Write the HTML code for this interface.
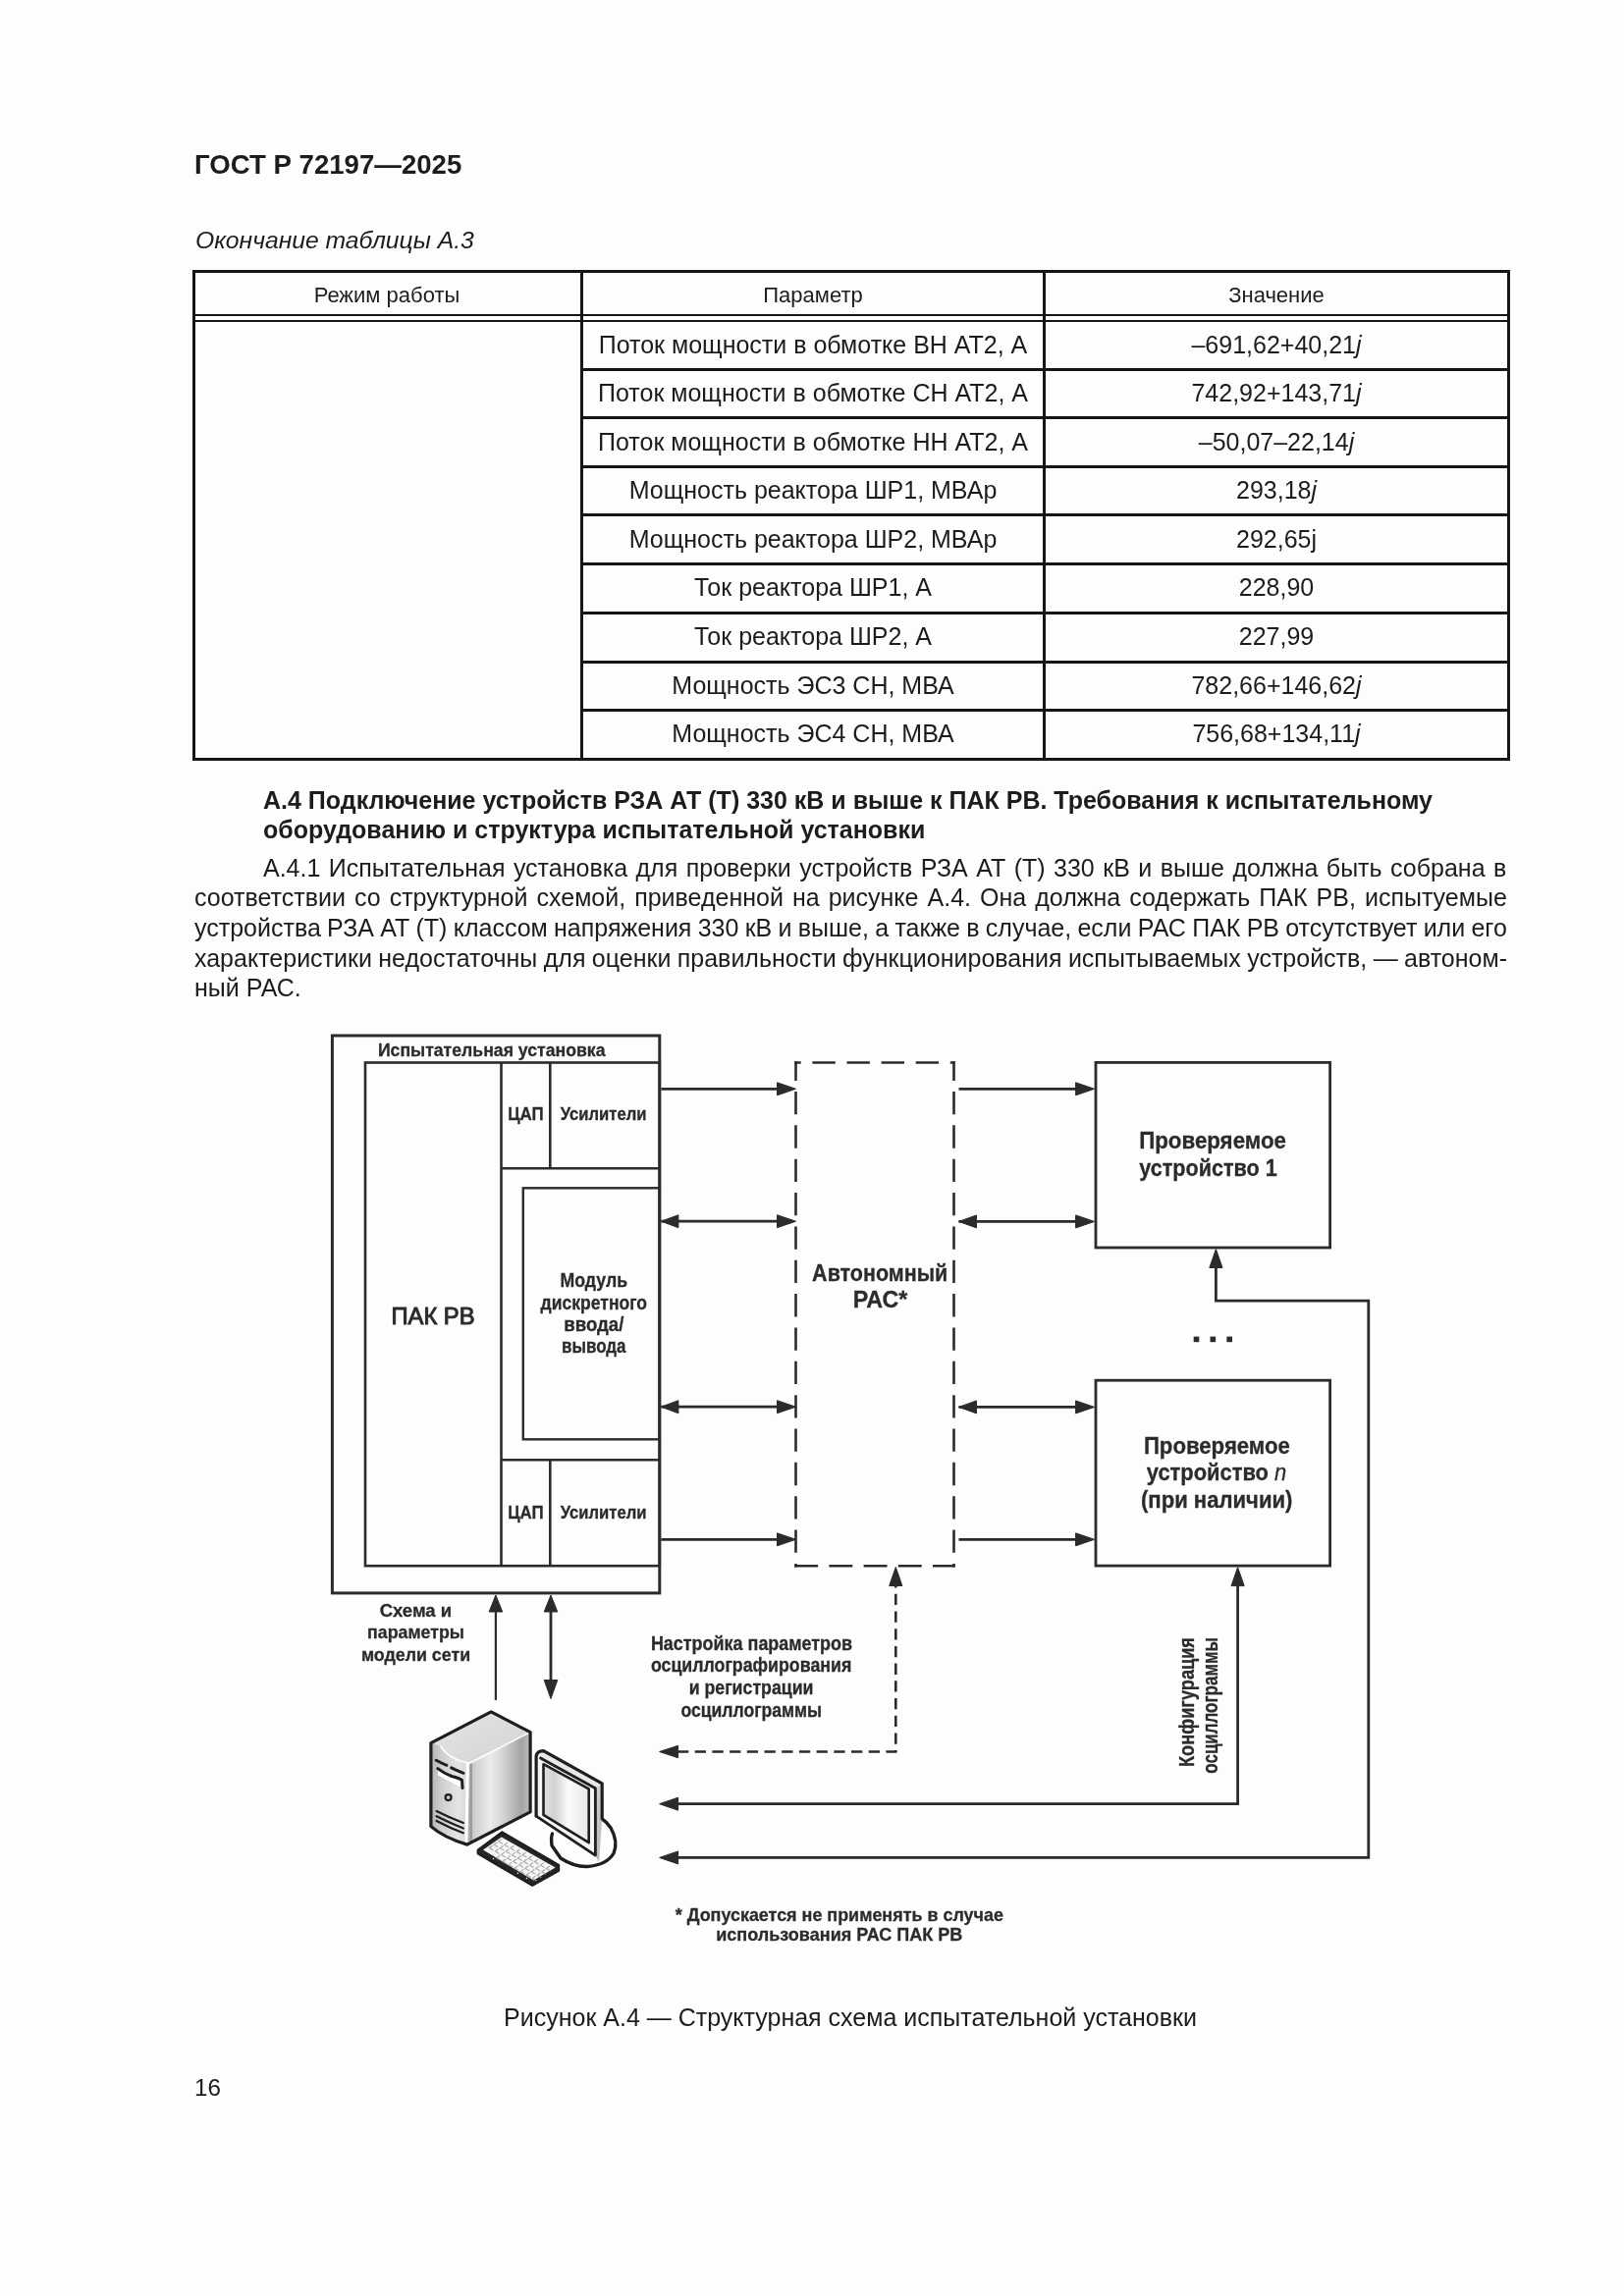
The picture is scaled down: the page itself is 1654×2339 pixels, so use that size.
<!DOCTYPE html>
<html lang="ru"><head><meta charset="utf-8"><title>ГОСТ Р 72197—2025</title>
<style>
html,body{margin:0;padding:0;background:#fdfdfd;}
body>*{will-change:transform;}
body{width:1654px;height:2339px;position:relative;overflow:hidden;font-family:"Liberation Sans",sans-serif;color:#1c1c1c;}
.t{position:absolute;white-space:nowrap;line-height:1;}
.jl{position:absolute;display:flex;justify-content:space-between;white-space:nowrap;line-height:1;}
.r{position:absolute;}
svg{position:absolute;left:0;top:0;}
svg text{font-family:"Liberation Sans",sans-serif;}
</style></head><body>
<div class="t" style="left:198.00px;top:153.64px;font-size:27.6px;font-weight:bold;">ГОСТ Р 72197—2025</div>
<div class="t" style="left:199.00px;top:233.09px;font-size:24.7px;font-style:italic;">Окончание таблицы А.3</div>
<div class="r" style="left:196px;top:275px;width:1341px;height:2.5px;background:#151515"></div>
<div class="r" style="left:196px;top:771.8px;width:1341px;height:3px;background:#151515"></div>
<div class="r" style="left:196px;top:275px;width:3px;height:499.8px;background:#151515"></div>
<div class="r" style="left:1534.6px;top:275px;width:3px;height:499.8px;background:#151515"></div>
<div class="r" style="left:590.8px;top:275px;width:2.6px;height:499.8px;background:#151515"></div>
<div class="r" style="left:1062px;top:275px;width:3px;height:499.8px;background:#151515"></div>
<div class="r" style="left:196px;top:320.3px;width:1341px;height:1.8px;background:#151515"></div>
<div class="r" style="left:196px;top:325.5px;width:1341px;height:1.8px;background:#151515"></div>
<div class="r" style="left:592px;top:374.8px;width:945px;height:2.5px;background:#151515"></div>
<div class="r" style="left:592px;top:424.3px;width:945px;height:2.5px;background:#151515"></div>
<div class="r" style="left:592px;top:473.8px;width:945px;height:2.5px;background:#151515"></div>
<div class="r" style="left:592px;top:523.3px;width:945px;height:2.5px;background:#151515"></div>
<div class="r" style="left:592px;top:573.0px;width:945px;height:2.5px;background:#151515"></div>
<div class="r" style="left:592px;top:622.8px;width:945px;height:2.5px;background:#151515"></div>
<div class="r" style="left:592px;top:672.5px;width:945px;height:2.5px;background:#151515"></div>
<div class="r" style="left:592px;top:722.0999999999999px;width:945px;height:2.5px;background:#151515"></div>
<div class="t" style="left:-605.80px;width:2000px;text-align:center;top:289.58px;font-size:22px;">Режим работы</div>
<div class="t" style="left:-172.50px;width:2000px;text-align:center;top:289.58px;font-size:22px;">Параметр</div>
<div class="t" style="left:300.00px;width:2000px;text-align:center;top:289.58px;font-size:22px;">Значение</div>
<div class="t" style="left:-172.50px;width:2000px;text-align:center;top:338.54px;font-size:25px;">Поток мощности в обмотке ВН АТ2, А</div>
<div class="t" style="left:300.00px;width:2000px;text-align:center;top:338.54px;font-size:25px;">–691,62+40,21<i>j</i></div>
<div class="t" style="left:-172.50px;width:2000px;text-align:center;top:388.04px;font-size:25px;">Поток мощности в обмотке СН АТ2, А</div>
<div class="t" style="left:300.00px;width:2000px;text-align:center;top:388.04px;font-size:25px;">742,92+143,71<i>j</i></div>
<div class="t" style="left:-172.50px;width:2000px;text-align:center;top:437.54px;font-size:25px;">Поток мощности в обмотке НН АТ2, А</div>
<div class="t" style="left:300.00px;width:2000px;text-align:center;top:437.54px;font-size:25px;">–50,07–22,14<i>j</i></div>
<div class="t" style="left:-172.50px;width:2000px;text-align:center;top:487.04px;font-size:25px;">Мощность реактора ШР1, МВАр</div>
<div class="t" style="left:300.00px;width:2000px;text-align:center;top:487.04px;font-size:25px;">293,18<i>j</i></div>
<div class="t" style="left:-172.50px;width:2000px;text-align:center;top:536.54px;font-size:25px;">Мощность реактора ШР2, МВАр</div>
<div class="t" style="left:300.00px;width:2000px;text-align:center;top:536.54px;font-size:25px;">292,65j</div>
<div class="t" style="left:-172.50px;width:2000px;text-align:center;top:586.24px;font-size:25px;">Ток реактора ШР1, А</div>
<div class="t" style="left:300.00px;width:2000px;text-align:center;top:586.24px;font-size:25px;">228,90</div>
<div class="t" style="left:-172.50px;width:2000px;text-align:center;top:636.04px;font-size:25px;">Ток реактора ШР2, А</div>
<div class="t" style="left:300.00px;width:2000px;text-align:center;top:636.04px;font-size:25px;">227,99</div>
<div class="t" style="left:-172.50px;width:2000px;text-align:center;top:685.74px;font-size:25px;">Мощность ЭС3 СН, МВА</div>
<div class="t" style="left:300.00px;width:2000px;text-align:center;top:685.74px;font-size:25px;">782,66+146,62<i>j</i></div>
<div class="t" style="left:-172.50px;width:2000px;text-align:center;top:735.34px;font-size:25px;">Мощность ЭС4 СН, МВА</div>
<div class="t" style="left:300.00px;width:2000px;text-align:center;top:735.34px;font-size:25px;">756,68+134,11<i>j</i></div>
<div class="t" style="left:268.00px;top:802.64px;font-size:25px;font-weight:bold;">А.4 Подключение устройств РЗА АТ (Т) 330 кВ и выше к ПАК РВ. Требования к испытательному</div>
<div class="t" style="left:268.00px;top:833.44px;font-size:25px;font-weight:bold;">оборудованию и структура испытательной установки</div>
<div class="jl" style="left:268px;width:1266.5px;top:871.54px;font-size:25px;"><span>А.4.1</span><span>Испытательная</span><span>установка</span><span>для</span><span>проверки</span><span>устройств</span><span>РЗА</span><span>АТ</span><span>(Т)</span><span>330</span><span>кВ</span><span>и</span><span>выше</span><span>должна</span><span>быть</span><span>собрана</span><span>в</span></div>
<div class="jl" style="left:197.5px;width:1337.0px;top:902.44px;font-size:25px;"><span>соответствии</span><span>со</span><span>структурной</span><span>схемой,</span><span>приведенной</span><span>на</span><span>рисунке</span><span>А.4.</span><span>Она</span><span>должна</span><span>содержать</span><span>ПАК</span><span>РВ,</span><span>испытуемые</span></div>
<div class="jl" style="left:197.5px;width:1337.0px;top:933.14px;font-size:25px;"><span>устройства</span><span>РЗА</span><span>АТ</span><span>(Т)</span><span>классом</span><span>напряжения</span><span>330</span><span>кВ</span><span>и</span><span>выше,</span><span>а</span><span>также</span><span>в</span><span>случае,</span><span>если</span><span>РАС</span><span>ПАК</span><span>РВ</span><span>отсутствует</span><span>или</span><span>его</span></div>
<div class="jl" style="left:197.5px;width:1337.0px;top:963.64px;font-size:25px;"><span>характеристики</span><span>недостаточны</span><span>для</span><span>оценки</span><span>правильности</span><span>функционирования</span><span>испытываемых</span><span>устройств,</span><span>—</span><span>автоном-</span></div>
<div class="t" style="left:197.50px;top:994.04px;font-size:25px;">ный РАС.</div>
<div class="t" style="left:-134.00px;width:2000px;text-align:center;top:2042.54px;font-size:25px;">Рисунок А.4 — Структурная схема испытательной установки</div>
<div class="t" style="left:198.00px;top:2115.31px;font-size:24.2px;">16</div>
<svg width="1654" height="2339" viewBox="0 0 1654 2339">

<defs>
<linearGradient id="gTop" x1="0" y1="0" x2="1" y2="1"><stop offset="0" stop-color="#e6e6e6"/><stop offset="1" stop-color="#d2d2d2"/></linearGradient>
<linearGradient id="gRight" gradientUnits="userSpaceOnUse" x1="478" y1="0" x2="540" y2="0"><stop offset="0" stop-color="#b0b0b0"/><stop offset="0.08" stop-color="#cfcfcf"/><stop offset="0.35" stop-color="#ececec"/><stop offset="0.6" stop-color="#cdcdcd"/><stop offset="0.85" stop-color="#a4a4a4"/><stop offset="1" stop-color="#bdbdbd"/></linearGradient>
<linearGradient id="gLeft" gradientUnits="userSpaceOnUse" x1="439" y1="0" x2="478" y2="0"><stop offset="0" stop-color="#b4b4b4"/><stop offset="0.3" stop-color="#d0d0d0"/><stop offset="0.7" stop-color="#e4e4e4"/><stop offset="1" stop-color="#d6d6d6"/></linearGradient>
<linearGradient id="gSide" x1="0" y1="0" x2="0" y2="1"><stop offset="0" stop-color="#d0d0d0"/><stop offset="1" stop-color="#b8b8b8"/></linearGradient>
<linearGradient id="gScreen" gradientUnits="userSpaceOnUse" x1="553" y1="0" x2="600" y2="0"><stop offset="0" stop-color="#e0e0e0"/><stop offset="0.25" stop-color="#d2d2d2"/><stop offset="0.55" stop-color="#fafafa"/><stop offset="1" stop-color="#e6e6e6"/></linearGradient>
</defs>

<rect x="338.4" y="1055.0" width="333.4" height="567.9" fill="none" stroke="#2b2b2b" stroke-width="3.0" />
<rect x="372" y="1082.5" width="299.8" height="512.7" fill="none" stroke="#2b2b2b" stroke-width="2.6" />
<line x1="510.5" y1="1082.5" x2="510.5" y2="1595.2" stroke="#2b2b2b" stroke-width="2.6" />
<line x1="560.3" y1="1082.5" x2="560.3" y2="1190.2" stroke="#2b2b2b" stroke-width="2.6" />
<line x1="560.3" y1="1487.2" x2="560.3" y2="1595.2" stroke="#2b2b2b" stroke-width="2.6" />
<line x1="510.5" y1="1190.2" x2="671.8" y2="1190.2" stroke="#2b2b2b" stroke-width="2.6" />
<line x1="510.5" y1="1487.2" x2="671.8" y2="1487.2" stroke="#2b2b2b" stroke-width="2.6" />
<rect x="532.8" y="1210.3" width="139" height="256" fill="none" stroke="#2b2b2b" stroke-width="2.4" />
<text x="500.7" y="1076.3" font-size="18.8" font-weight="bold" text-anchor="middle" fill="#2b2b2b" textLength="231.6" lengthAdjust="spacingAndGlyphs"  stroke="#2b2b2b" stroke-width="0.3">Испытательная установка</text>
<text x="535.4" y="1141.2" font-size="17.5" font-weight="bold" text-anchor="middle" fill="#2b2b2b" textLength="36.5" lengthAdjust="spacingAndGlyphs"  stroke="#2b2b2b" stroke-width="0.3">ЦАП</text>
<text x="614.6" y="1141.2" font-size="17.5" font-weight="bold" text-anchor="middle" fill="#2b2b2b" textLength="87.6" lengthAdjust="spacingAndGlyphs"  stroke="#2b2b2b" stroke-width="0.3">Усилители</text>
<text x="535.4" y="1547.1" font-size="17.5" font-weight="bold" text-anchor="middle" fill="#2b2b2b" textLength="36.5" lengthAdjust="spacingAndGlyphs"  stroke="#2b2b2b" stroke-width="0.3">ЦАП</text>
<text x="614.6" y="1547.1" font-size="17.5" font-weight="bold" text-anchor="middle" fill="#2b2b2b" textLength="87.6" lengthAdjust="spacingAndGlyphs"  stroke="#2b2b2b" stroke-width="0.3">Усилители</text>
<text x="441" y="1348.7" font-size="24" font-weight="normal" text-anchor="middle" fill="#2b2b2b" textLength="85" lengthAdjust="spacingAndGlyphs" stroke="#2b2b2b" stroke-width="1.0">ПАК РВ</text>
<text x="604.8" y="1310.5" font-size="20" font-weight="bold" text-anchor="middle" fill="#2b2b2b" textLength="68.5" lengthAdjust="spacingAndGlyphs"  stroke="#2b2b2b" stroke-width="0.3">Модуль</text>
<text x="604.8" y="1334.2" font-size="20" font-weight="bold" text-anchor="middle" fill="#2b2b2b" textLength="108.5" lengthAdjust="spacingAndGlyphs"  stroke="#2b2b2b" stroke-width="0.3">дискретного</text>
<text x="604.8" y="1355.7" font-size="20" font-weight="bold" text-anchor="middle" fill="#2b2b2b" textLength="61" lengthAdjust="spacingAndGlyphs"  stroke="#2b2b2b" stroke-width="0.3">ввода/</text>
<text x="604.8" y="1377.5" font-size="20" font-weight="bold" text-anchor="middle" fill="#2b2b2b" textLength="65.5" lengthAdjust="spacingAndGlyphs"  stroke="#2b2b2b" stroke-width="0.3">вывода</text>
<line x1="810.5" y1="1081.2" x2="810.5" y2="1596.5" stroke="#2b2b2b" stroke-width="2.6" stroke-dasharray="23.3 11.05" stroke-dashoffset="3.55"/>
<line x1="971.5" y1="1081.2" x2="971.5" y2="1596.5" stroke="#2b2b2b" stroke-width="2.6" stroke-dasharray="23.3 11.05" stroke-dashoffset="3.55"/>
<line x1="809.2" y1="1082.5" x2="972.8" y2="1082.5" stroke="#2b2b2b" stroke-width="2.6" stroke-dasharray="23.4 11.7" stroke-dashoffset="16.9"/>
<line x1="809.2" y1="1595.2" x2="972.8" y2="1595.2" stroke="#2b2b2b" stroke-width="2.6" stroke-dasharray="23.9 11.3" stroke-dashoffset="0"/>
<text x="896.2" y="1304.6" font-size="23.5" font-weight="bold" text-anchor="middle" fill="#2b2b2b" textLength="138.2" lengthAdjust="spacingAndGlyphs"  stroke="#2b2b2b" stroke-width="0.3">Автономный</text>
<text x="896.6" y="1332.4" font-size="23.5" font-weight="bold" text-anchor="middle" fill="#2b2b2b" textLength="55.5" lengthAdjust="spacingAndGlyphs"  stroke="#2b2b2b" stroke-width="0.3">РАС*</text>
<rect x="1116" y="1082.4" width="238.6" height="188.6" fill="none" stroke="#2b2b2b" stroke-width="2.8" />
<rect x="1116" y="1406.2" width="238.6" height="188.9" fill="none" stroke="#2b2b2b" stroke-width="2.8" />
<text x="1160.2" y="1169.9" font-size="24" font-weight="bold" text-anchor="start" fill="#2b2b2b" textLength="149.8" lengthAdjust="spacingAndGlyphs"  stroke="#2b2b2b" stroke-width="0.3">Проверяемое</text>
<text x="1160.2" y="1197.7" font-size="24" font-weight="bold" text-anchor="start" fill="#2b2b2b" textLength="140.5" lengthAdjust="spacingAndGlyphs"  stroke="#2b2b2b" stroke-width="0.3">устройство 1</text>
<text x="1239.4" y="1480.6" font-size="24" font-weight="bold" text-anchor="middle" fill="#2b2b2b" textLength="149" lengthAdjust="spacingAndGlyphs"  stroke="#2b2b2b" stroke-width="0.3">Проверяемое</text>
<text x="1239.0" y="1508.3" font-size="24" font-weight="bold" text-anchor="middle" fill="#2b2b2b" textLength="142.5" lengthAdjust="spacingAndGlyphs"  stroke="#2b2b2b" stroke-width="0.3">устройство <tspan font-style="italic" font-weight="normal">n</tspan></text>
<text x="1239.2" y="1536.1" font-size="24" font-weight="bold" text-anchor="middle" fill="#2b2b2b" textLength="154.5" lengthAdjust="spacingAndGlyphs"  stroke="#2b2b2b" stroke-width="0.3">(при наличии)</text>
<rect x="1215.7" y="1361.6000000000001" width="5.6" height="5.6" fill="#2b2b2b"/>
<rect x="1232.5" y="1361.6000000000001" width="5.6" height="5.6" fill="#2b2b2b"/>
<rect x="1249.4" y="1361.6000000000001" width="5.6" height="5.6" fill="#2b2b2b"/>
<line x1="673.4" y1="1109.3" x2="795" y2="1109.3" stroke="#2b2b2b" stroke-width="2.8" />
<polygon points="810.5,1109.3 791.5,1102.8 791.5,1115.8" fill="#2b2b2b" stroke="#2b2b2b" stroke-width="1" stroke-linejoin="miter"/>
<line x1="673.4" y1="1244.2" x2="795" y2="1244.2" stroke="#2b2b2b" stroke-width="2.8" />
<polygon points="810.5,1244.2 791.5,1237.7 791.5,1250.7" fill="#2b2b2b" stroke="#2b2b2b" stroke-width="1" stroke-linejoin="miter"/>
<polygon points="673.4,1244.2 690.9,1237.7 690.9,1250.7" fill="#2b2b2b" stroke="#2b2b2b" stroke-width="1" stroke-linejoin="miter"/>
<line x1="673.4" y1="1433.2" x2="795" y2="1433.2" stroke="#2b2b2b" stroke-width="2.8" />
<polygon points="810.5,1433.2 791.5,1426.7 791.5,1439.7" fill="#2b2b2b" stroke="#2b2b2b" stroke-width="1" stroke-linejoin="miter"/>
<polygon points="673.4,1433.2 690.9,1426.7 690.9,1439.7" fill="#2b2b2b" stroke="#2b2b2b" stroke-width="1" stroke-linejoin="miter"/>
<line x1="673.4" y1="1568.3" x2="795" y2="1568.3" stroke="#2b2b2b" stroke-width="2.8" />
<polygon points="810.5,1568.3 791.5,1561.8 791.5,1574.8" fill="#2b2b2b" stroke="#2b2b2b" stroke-width="1" stroke-linejoin="miter"/>
<line x1="976.5" y1="1109.3" x2="1100" y2="1109.3" stroke="#2b2b2b" stroke-width="2.8" />
<polygon points="1114.6,1109.3 1095.6,1102.8 1095.6,1115.8" fill="#2b2b2b" stroke="#2b2b2b" stroke-width="1" stroke-linejoin="miter"/>
<line x1="976.5" y1="1244.4" x2="1100" y2="1244.4" stroke="#2b2b2b" stroke-width="2.8" />
<polygon points="1114.6,1244.4 1095.6,1237.9 1095.6,1250.9" fill="#2b2b2b" stroke="#2b2b2b" stroke-width="1" stroke-linejoin="miter"/>
<polygon points="976.5,1244.4 994.5,1237.9 994.5,1250.9" fill="#2b2b2b" stroke="#2b2b2b" stroke-width="1" stroke-linejoin="miter"/>
<line x1="976.5" y1="1433.4" x2="1100" y2="1433.4" stroke="#2b2b2b" stroke-width="2.8" />
<polygon points="1114.6,1433.4 1095.6,1426.9 1095.6,1439.9" fill="#2b2b2b" stroke="#2b2b2b" stroke-width="1" stroke-linejoin="miter"/>
<polygon points="976.5,1433.4 994.5,1426.9 994.5,1439.9" fill="#2b2b2b" stroke="#2b2b2b" stroke-width="1" stroke-linejoin="miter"/>
<line x1="976.5" y1="1568.3" x2="1100" y2="1568.3" stroke="#2b2b2b" stroke-width="2.8" />
<polygon points="1114.6,1568.3 1095.6,1561.8 1095.6,1574.8" fill="#2b2b2b" stroke="#2b2b2b" stroke-width="1" stroke-linejoin="miter"/>
<line x1="504.9" y1="1640" x2="504.9" y2="1731.9" stroke="#2b2b2b" stroke-width="2.2" />
<polygon points="504.9,1625.0 498.1,1642.0 511.7,1642.0" fill="#2b2b2b" stroke="#2b2b2b" stroke-width="1" stroke-linejoin="miter"/>
<line x1="561" y1="1640" x2="561" y2="1712" stroke="#2b2b2b" stroke-width="2.8" />
<polygon points="561.0,1625.0 554.2,1642.0 567.8,1642.0" fill="#2b2b2b" stroke="#2b2b2b" stroke-width="1" stroke-linejoin="miter"/>
<polygon points="561.0,1730.5 554.2,1711.5 567.8,1711.5" fill="#2b2b2b" stroke="#2b2b2b" stroke-width="1" stroke-linejoin="miter"/>
<text x="423.4" y="1646.6" font-size="19" font-weight="bold" text-anchor="middle" fill="#2b2b2b" textLength="73.5" lengthAdjust="spacingAndGlyphs"  stroke="#2b2b2b" stroke-width="0.3">Схема и</text>
<text x="423.5" y="1668.8" font-size="19" font-weight="bold" text-anchor="middle" fill="#2b2b2b" textLength="98.8" lengthAdjust="spacingAndGlyphs"  stroke="#2b2b2b" stroke-width="0.3">параметры</text>
<text x="423.5" y="1691.7" font-size="19" font-weight="bold" text-anchor="middle" fill="#2b2b2b" textLength="111.2" lengthAdjust="spacingAndGlyphs"  stroke="#2b2b2b" stroke-width="0.3">модели сети</text>
<path d="M 690 1784.5 H 912.3 V 1612" fill="none" stroke="#2b2b2b" stroke-width="2.6" stroke-dasharray="11.3 6.4"/>
<polygon points="671.6,1784.5 690.6,1778.3 690.6,1790.7" fill="#2b2b2b" stroke="#2b2b2b" stroke-width="1" stroke-linejoin="miter"/>
<polygon points="912.3,1596.5 905.7,1615.5 918.9,1615.5" fill="#2b2b2b" stroke="#2b2b2b" stroke-width="1" stroke-linejoin="miter"/>
<text x="765.5" y="1680.7" font-size="20" font-weight="bold" text-anchor="middle" fill="#2b2b2b" textLength="205.2" lengthAdjust="spacingAndGlyphs"  stroke="#2b2b2b" stroke-width="0.3">Настройка параметров</text>
<text x="765.1" y="1703.4" font-size="20" font-weight="bold" text-anchor="middle" fill="#2b2b2b" textLength="204.4" lengthAdjust="spacingAndGlyphs"  stroke="#2b2b2b" stroke-width="0.3">осциллографирования</text>
<text x="765.1" y="1725.9" font-size="20" font-weight="bold" text-anchor="middle" fill="#2b2b2b" textLength="126.8" lengthAdjust="spacingAndGlyphs"  stroke="#2b2b2b" stroke-width="0.3">и регистрации</text>
<text x="765.2" y="1749.1" font-size="20" font-weight="bold" text-anchor="middle" fill="#2b2b2b" textLength="143.6" lengthAdjust="spacingAndGlyphs"  stroke="#2b2b2b" stroke-width="0.3">осциллограммы</text>
<path d="M 690 1837.7 H 1260.6 V 1612" fill="none" stroke="#2b2b2b" stroke-width="2.8"/>
<polygon points="671.6,1837.7 690.6,1831.2 690.6,1844.2" fill="#2b2b2b" stroke="#2b2b2b" stroke-width="1" stroke-linejoin="miter"/>
<polygon points="1260.6,1596.6 1254.0,1615.6 1267.2,1615.6" fill="#2b2b2b" stroke="#2b2b2b" stroke-width="1" stroke-linejoin="miter"/>
<path d="M 690 1892.4 H 1393.8 V 1325.2 H 1238.4 V 1290" fill="none" stroke="#2b2b2b" stroke-width="2.8"/>
<polygon points="671.6,1892.4 690.6,1885.9 690.6,1898.9" fill="#2b2b2b" stroke="#2b2b2b" stroke-width="1" stroke-linejoin="miter"/>
<polygon points="1238.4,1272.5 1231.8,1291.5 1245.0,1291.5" fill="#2b2b2b" stroke="#2b2b2b" stroke-width="1" stroke-linejoin="miter"/>
<text transform="translate(1216,1668) rotate(-90)" x="0" y="0" font-size="22" font-weight="bold" text-anchor="end" fill="#2b2b2b" textLength="132" lengthAdjust="spacingAndGlyphs" stroke="#2b2b2b" stroke-width="0.3">Конфигурация</text>
<text transform="translate(1240,1668) rotate(-90)" x="0" y="0" font-size="22" font-weight="bold" text-anchor="end" fill="#2b2b2b" textLength="138.7" lengthAdjust="spacingAndGlyphs" stroke="#2b2b2b" stroke-width="0.3">осциллограммы</text>
<text x="854.8" y="1956.9" font-size="19" font-weight="bold" text-anchor="middle" fill="#2b2b2b" textLength="334.2" lengthAdjust="spacingAndGlyphs"  stroke="#2b2b2b" stroke-width="0.3">* Допускается не применять в случае</text>
<text x="854.8" y="1977.4" font-size="19" font-weight="bold" text-anchor="middle" fill="#2b2b2b" textLength="251.2" lengthAdjust="spacingAndGlyphs"  stroke="#2b2b2b" stroke-width="0.3">использования РАС ПАК РВ</text>

<g stroke="#1e1e1e" stroke-linejoin="round" stroke-linecap="round">
<!-- monitor stand -->
<path d="M 562.5 1868 Q 561 1872 562 1880 L 571 1893 Q 585 1902 598 1901.5 Q 618 1900 625 1888 Q 630 1876 622 1862 Q 618 1856 613.2 1853" fill="#fdfdfd" stroke-width="3.4"/>
<!-- tower -->
<path d="M 438.9 1775.6 L 500.2 1743.9 L 540.1 1764.6 L 540.1 1845.9 L 475.8 1879.1 Q 452 1872 438.9 1860.6 Z" fill="url(#gRight)" stroke="none"/>
<path d="M 438.9 1775.6 L 500.2 1743.9 L 540.1 1764.6 L 478 1796.3 Q 457 1792 449 1779.3 Z" fill="url(#gTop)" stroke="none"/>
<path d="M 438.9 1775.6 L 449 1779.3 Q 457 1792 478 1796.3 L 475.8 1879.1 Q 452 1872 438.9 1860.6 Z" fill="url(#gLeft)" stroke="none"/>
<path d="M 449 1779.3 Q 457 1792 478 1796.3 L 540.1 1764.6" fill="none" stroke="#ffffff" stroke-width="1.6"/>
<path d="M 476.3 1797 L 475 1878" fill="none" stroke="#ffffff" stroke-width="3"/>
<path d="M 479.8 1797 L 479.8 1877" fill="none" stroke="#9a9a9a" stroke-width="2.2" stroke-linecap="butt"/>
<path d="M 438.9 1775.6 L 500.2 1743.9 L 540.1 1764.6 L 540.1 1845.9 L 475.8 1879.1 Q 452 1872 438.9 1860.6 Z" fill="none" stroke-width="3.2"/>
<path d="M 446 1802 L 471 1813.5 L 471 1821.5 L 446 1808.5 Z" fill="#ffffff" stroke="none"/>
<path d="M 444.2 1793.3 Q 450 1796.5 455 1798.3 M 459.6 1800.8 Q 466 1804 472.1 1806.3" fill="none" stroke-width="3"/>
<path d="M 445.8 1801.6 Q 452 1806.5 460 1809.5 Q 468 1811.5 470.5 1813.5 L 471 1821.5" fill="none" stroke-width="3"/>
<circle cx="456.6" cy="1831.1" r="3.0" fill="#c8c8c8" stroke-width="2.2"/>
<path d="M 444.6 1845.1 Q 458 1852 471.8 1857 M 444.6 1850.3 Q 458 1857 471.8 1862.5 M 444.6 1854.9 Q 458 1862 471.8 1867.3" fill="none" stroke-width="2.3"/>
<!-- monitor -->
<path d="M 546.1 1789 Q 547 1783.5 553.5 1783.6 L 613.2 1816.9 L 606.4 1821.8 L 551.6 1790.4 Z" fill="#e8e8e8" stroke="none"/>
<path d="M 606.4 1821.8 L 613.2 1816.9 L 613.2 1853 L 610 1897 L 606.4 1890.1 Z" fill="url(#gSide)" stroke="none"/>
<path d="M 546.1 1789 L 606.4 1821.8 L 606.4 1890.1 L 546.1 1850.1 Z" fill="#f4f4f4" stroke="none"/>
<path d="M 546.1 1850.1 L 546.1 1789 Q 547 1783.5 553.5 1783.6 L 613.2 1816.9 L 613.2 1853" fill="none" stroke-width="3.2"/>
<path d="M 546.1 1850.1 L 606.4 1890.1 L 606.4 1821.8 L 550.5 1791" fill="none" stroke-width="2.8"/>
<path d="M 553.5 1797.2 L 599.7 1822.4 L 599.7 1877.2 L 553.5 1848.9 Z" fill="url(#gScreen)" stroke-width="2.6"/>
<!-- keyboard -->
<path d="M 486.8 1884.6 L 511.4 1866.5 L 569 1900 L 569 1905.6 L 542.2 1920.7 L 486.8 1888.3 Z" fill="#262626" stroke-width="2.4"/>
<path d="M 492 1884.6 L 510.8 1871.4 L 565.6 1902.5 L 543.4 1915.4 Z" fill="#f6f6f6" stroke="none"/>
<path d="M 511.2 1873.4 L 507.7 1875.9 L 512.0 1878.3 M 517.3 1876.9 L 513.8 1879.4 L 518.0 1881.8 M 523.4 1880.3 L 519.9 1882.8 L 524.1 1885.2 M 529.5 1883.8 L 526.0 1886.3 L 530.2 1888.7 M 535.6 1887.2 L 532.0 1889.7 L 536.3 1892.1 M 541.7 1890.7 L 538.1 1893.2 L 542.4 1895.6 M 547.8 1894.2 L 544.2 1896.6 L 548.5 1899.1 M 553.8 1897.6 L 550.3 1900.1 L 554.6 1902.5 M 559.9 1901.1 L 556.4 1903.5 L 560.7 1906.0 M 506.5 1876.7 L 503.0 1879.2 L 507.3 1881.6 M 512.6 1880.2 L 509.1 1882.7 L 513.3 1885.1 M 518.7 1883.6 L 515.2 1886.1 L 519.4 1888.5 M 524.8 1887.1 L 521.3 1889.6 L 525.5 1892.0 M 530.9 1890.5 L 527.3 1893.0 L 531.6 1895.4 M 537.0 1894.0 L 533.4 1896.5 L 537.7 1898.9 M 543.1 1897.5 L 539.5 1899.9 L 543.8 1902.4 M 549.1 1900.9 L 545.6 1903.4 L 549.9 1905.8 M 555.2 1904.4 L 551.7 1906.8 L 556.0 1909.3 M 501.8 1880.0 L 498.3 1882.5 L 502.6 1884.9 M 507.9 1883.5 L 504.4 1886.0 L 508.6 1888.4 M 514.0 1886.9 L 510.5 1889.4 L 514.7 1891.8 M 520.1 1890.4 L 516.6 1892.9 L 520.8 1895.3 M 526.2 1893.8 L 522.6 1896.3 L 526.9 1898.7 M 532.3 1897.3 L 528.7 1899.8 L 533.0 1902.2 M 538.4 1900.8 L 534.8 1903.2 L 539.1 1905.7 M 544.4 1904.2 L 540.9 1906.7 L 545.2 1909.1 M 550.5 1907.7 L 547.0 1910.1 L 551.3 1912.6 M 509.3 1890.2 L 505.8 1892.7 L 510.0 1895.1 M 515.4 1893.7 L 511.9 1896.2 L 516.1 1898.6 M 521.5 1897.1 L 517.9 1899.6 L 522.2 1902.0 M 527.6 1900.6 L 524.0 1903.1 L 528.3 1905.5 M 533.7 1904.1 L 530.1 1906.5 L 534.4 1909.0 M 539.7 1907.5 L 536.2 1910.0 L 540.5 1912.4 M 545.8 1911.0 L 542.3 1913.4 L 546.6 1915.9" fill="none" stroke="#a8a8a8" stroke-width="1.1" stroke-linecap="butt"/>
<circle cx="502.5" cy="1893.5" r="0.7" fill="#fff" stroke="none"/>
<circle cx="527.5" cy="1908.3" r="0.7" fill="#fff" stroke="none"/>
<circle cx="536.5" cy="1913.5" r="0.7" fill="#fff" stroke="none"/>
</g>

</svg>
</body></html>
